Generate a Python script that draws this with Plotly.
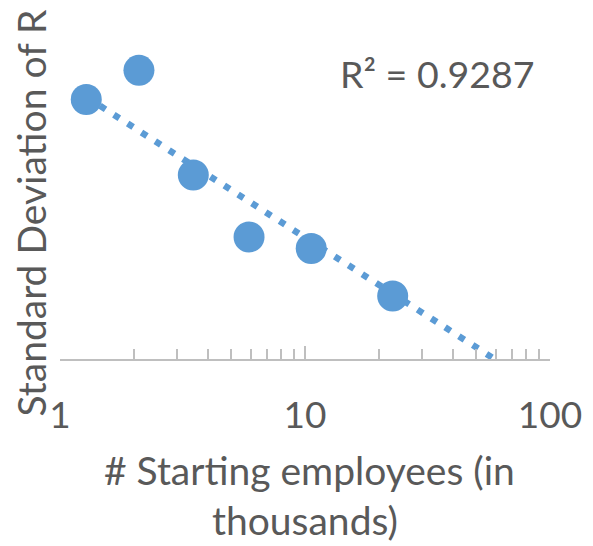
import plotly.graph_objects as go

# Data
employees_k = [1.28, 2.10, 3.50, 5.91, 10.6, 22.8]
std_dev_r = [0.268, 0.298, 0.190, 0.126, 0.114, 0.065]
# Logarithmic trendline endpoints (as drawn in the chart)
trend_x = [1.28, 59.3]
trend_y = [0.2705, 0.0]
r2_label = "R² = 0.9287"
x_tickvals = [1, 10, 100]
x_ticktext = ["1", "10", "100"]
x_minor_vals = [2, 3, 4, 5, 6, 7, 8, 9, 20, 30, 40, 50, 60, 70, 80, 90]
x_title_lines = ["# Starting employees (in", "thousands)"]
y_title = "Standard Deviation of R"

BLUE = "#5b9bd5"
GRAY = "#595959"
AXIS = "#bfbfbf"
FONT = "Lato"

fig = go.Figure()
fig.add_trace(go.Scatter(
    x=trend_x, y=trend_y, mode="lines",
    line=dict(color=BLUE, width=6.5, dash="6.5px,9.9px"),
    hoverinfo="skip", showlegend=False,
))
fig.add_trace(go.Scatter(
    x=employees_k, y=std_dev_r, mode="markers",
    marker=dict(size=31, color=BLUE, line=dict(width=0)),
    showlegend=False,
))

fig.add_annotation(
    x=0.974, xref="paper", xanchor="right", y=0.2945, yref="y", yanchor="middle",
    text=r2_label, showarrow=False, font=dict(family=FONT, size=37.5, color=GRAY),
)
# axis titles
fig.add_annotation(
    x=-0.0582, xref="paper", xanchor="center", y=0.4336, yref="paper", yanchor="middle",
    text=y_title, textangle=-90, showarrow=False,
    font=dict(family=FONT, size=39, color=GRAY),
)
fig.add_annotation(
    x=0.5087, xref="paper", xanchor="center", y=-0.3274, yref="paper", yanchor="middle",
    text=x_title_lines[0], showarrow=False,
    font=dict(family=FONT, size=39, color=GRAY),
)
fig.add_annotation(
    x=0.4995, xref="paper", xanchor="center", y=-0.4749, yref="paper", yanchor="middle",
    text=x_title_lines[1], showarrow=False,
    font=dict(family=FONT, size=39, color=GRAY),
)

fig.update_xaxes(
    type="log", range=[0, 2], automargin=False,
    tickmode="array", tickvals=x_tickvals, ticktext=x_ticktext,
    ticks="inside", ticklen=13, tickwidth=1.5, tickcolor=AXIS,
    minor=dict(tickmode="array", tickvals=x_minor_vals, ticks="inside",
               ticklen=10, tickwidth=1.5, tickcolor=AXIS, showgrid=False),
    showline=True, linecolor=AXIS, linewidth=2,
    showgrid=False, zeroline=False,
    tickfont=dict(family=FONT, size=37, color=GRAY),
    ticklabelstandoff=23,
)
fig.update_yaxes(
    range=[0, 0.35], automargin=False,
    showline=False, showgrid=False, zeroline=False,
    showticklabels=False, ticks="",
)

fig.update_layout(
    width=593, height=546,
    margin=dict(l=59.5, r=43, t=20, b=187),
    paper_bgcolor="white", plot_bgcolor="white",
    font=dict(family=FONT, color=GRAY),
)

fig.write_html("out.html", config={"displayModeBar": False},
               post_script="document.body.style.margin='0';")
